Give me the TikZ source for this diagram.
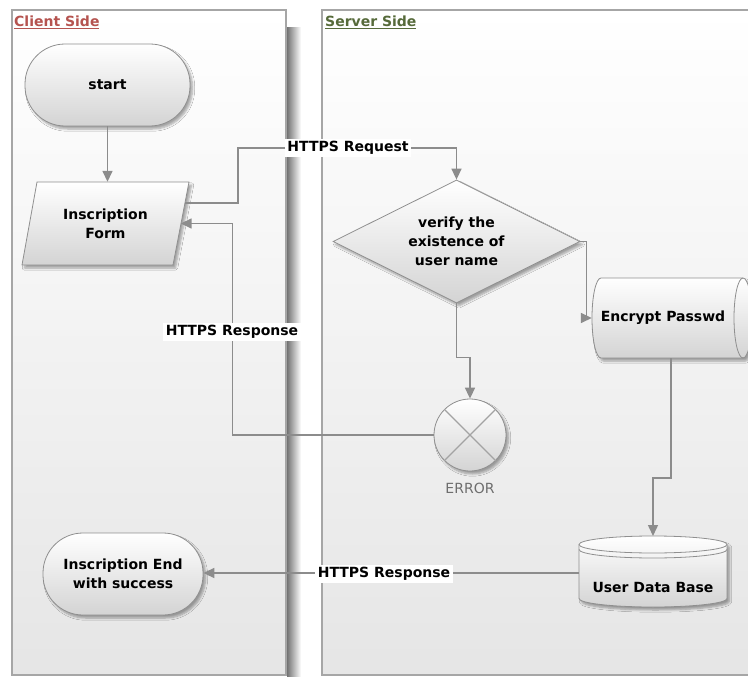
\documentclass[tikz,border=0pt]{standalone}
\usepackage{fontspec}
\setmainfont{DejaVu Sans}
\usetikzlibrary{shapes.geometric,shadows.blur,arrows.meta,calc}
\definecolor{lanegray}{HTML}{A6A6A6}
\definecolor{linkgray}{HTML}{8C8C8C}
\definecolor{shapeline}{HTML}{8F8F8F}
\definecolor{crossgray}{HTML}{A3A3A3}
\definecolor{clientred}{HTML}{B5534F}
\definecolor{serverolive}{HTML}{566A3A}
\definecolor{errgray}{HTML}{6E6E6E}
\newcommand\bodyfont{\fontsize{14}{19}\selectfont}

\begin{document}
\begin{tikzpicture}[x=1pt,y=-1pt,
  lane/.style={draw=lanegray,line width=1.2pt,top color=white,bottom color=black!10},
  box/.style={draw=shapeline,line width=0.8pt,top color=white,bottom color=black!17,
    blur shadow={shadow xshift=2.5pt,shadow yshift=-3pt,shadow blur steps=6,shadow opacity=35},
    font=\bodyfont\bfseries,align=center,text=black},
  terminal/.style={box,rectangle,rounded corners=40pt,inner sep=0pt},
  conn/.style={draw=linkgray,line width=1.5pt,-{Triangle[length=11pt,width=10pt]}},
  flowlabel/.style={fill=white,font=\bodyfont\bfseries,inner sep=2.5pt},
  lanetitle/.style={font=\bodyfont\bfseries,anchor=west,inner sep=0pt},
  plaintext/.style={font=\bodyfont\bfseries,align=center,inner sep=0pt}]

\useasboundingbox (0,0) rectangle (748,677);
\clip (0,0) rectangle (748,677);
\fill[white] (0,0) rectangle (748,677);

% swim lanes
\path[lane] (12,10) rectangle (286,675);
\shade[left color=black!55,right color=white] (287,28) rectangle (301,677);
\path[lane] (322,10) rectangle (790,675);
\node[lanetitle,text=clientred] (ctitle) at (14,22) {\underline{Client Side}};
\node[lanetitle,text=serverolive] (stitle) at (325,22) {\underline{Server Side}};

% client side shapes
\node[terminal,minimum width=165pt,minimum height=82pt] (start) at (107.5,85) {start};
\path[box] (37,182) -- (189,182) -- (173,265) -- (22,265) -- cycle;
\node[plaintext,minimum width=150pt,minimum height=83pt] (form) at (105.5,223.5) {Inscription\\Form};
\coordinate (formout) at (185,203);
\node[terminal,minimum width=160pt,minimum height=82pt] (endn) at (123,574) {Inscription End\\with success};

% server side shapes
\node[box,diamond,aspect=2,minimum width=247pt,minimum height=123pt,inner sep=0pt] (dia) at (456.5,241.5)
  {verify the\\existence of\\user name};

% horizontal cylinder (encryption step)
\path[box] (601,278) -- (743,278) arc[start angle=90,end angle=-90,x radius=9pt,y radius=40pt]
  -- (601,358) arc[start angle=270,end angle=90,x radius=9pt,y radius=40pt] -- cycle;
\draw[draw=shapeline,line width=0.8pt] (743,278) arc[start angle=90,end angle=270,x radius=9pt,y radius=40pt];
\node[plaintext,minimum width=142pt,minimum height=80pt] (enc) at (663,318) {Encrypt Passwd};

% database cylinder
\path[box] (579,544.5) -- (579,598.5) arc[start angle=180,end angle=360,x radius=74pt,y radius=8.5pt]
  -- (727,544.5) arc[start angle=0,end angle=180,x radius=74pt,y radius=8.5pt] -- cycle;
\draw[draw=shapeline,line width=0.8pt]
  (579,544.5) arc[start angle=180,end angle=360,x radius=74pt,y radius=8.5pt]
  (579,549.5) arc[start angle=180,end angle=360,x radius=74pt,y radius=8.5pt];
\node[plaintext,minimum width=148pt,minimum height=40pt] (db) at (653,587) {User Data Base};
\coordinate (dbtop) at (653,536);

% error event
\node[box,circle,minimum size=72pt,inner sep=0pt] (err) at (470,435) {};
\draw[crossgray,line width=1.3pt] (err.north west) -- (err.south east) (err.north east) -- (err.south west);
\node[font=\bodyfont,text=errgray,inner sep=0pt] (errlbl) at (470,488) {ERROR};

% connectors
\draw[conn] (start.south) -- (start.south |- form.north);
\draw[conn] (formout) -| (238,148) -| (dia.north);
\draw[conn] (dia.east) -- ++(6,0) |- (enc.west);
\draw[conn] (dia.south) -- ++(0,54) -| (err.north);
\draw[conn] (err.west) -| ([xshift=52pt]form.east) -- (form.east);
\draw[conn] ([xshift=8pt]enc.south) -- ++(0,120) -| (dbtop);
\coordinate (dbw) at ([yshift=14pt]db.west);
\draw[conn] (dbw) -- (dbw -| endn.east);

% connector labels
\node[flowlabel] (reqlbl) at (348,148) {HTTPS Request};
\node[flowlabel] (resp1) at (232,332) {HTTPS Response};
\node[flowlabel] (resp2) at (384,574) {HTTPS Response};
\end{tikzpicture}
\end{document}
